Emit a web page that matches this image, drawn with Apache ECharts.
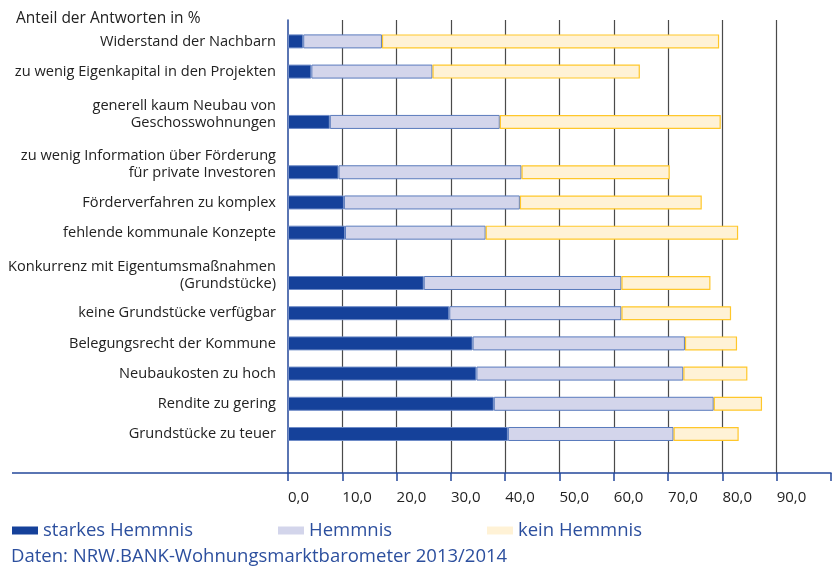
<!DOCTYPE html>
<html>
<head>
<meta charset="utf-8">
<script src="https://cdn.jsdelivr.net/npm/echarts@6/dist/echarts.min.js"></script>
<style>
  html, body { margin: 0; padding: 0; background: #fff; }
  #chart { width: 837px; height: 568px; }
</style>
</head>
<body>
<div id="chart"></div>
<script>
// Kategorien von oben nach unten
const categories = [
  'Widerstand der Nachbarn',
  'zu wenig Eigenkapital in den Projekten',
  'generell kaum Neubau von\nGeschosswohnungen',
  'zu wenig Information über Förderung\nfür private Investoren',
  'Förderverfahren zu komplex',
  'fehlende kommunale Konzepte',
  'Konkurrenz mit Eigentumsmaßnahmen\n(Grundstücke)',
  'keine Grundstücke verfügbar',
  'Belegungsrecht der Kommune',
  'Neubaukosten zu hoch',
  'Rendite zu gering',
  'Grundstücke zu teuer'
];
const seriesNames = ['starkes Hemmnis', 'Hemmnis', 'kein Hemmnis'];
const starkes = [2.8, 4.3, 7.7, 9.3, 10.3, 10.5, 25.0, 29.7, 34.0, 34.7, 37.9, 40.5];
const hemmnis = [14.5, 22.3, 31.3, 33.7, 32.4, 25.9, 36.4, 31.7, 39.1, 38.1, 40.5, 30.5];
const keinHemmnis = [62.1, 38.2, 40.7, 27.3, 33.5, 46.5, 16.4, 20.2, 9.6, 11.8, 8.9, 12.0];

const FONT = '"Open Sans", sans-serif';
const BLUE = '#23479a';

// zweizeilige Beschriftungen bekommen mehr Platz -> feines Raster aus Slots
const SLOTS = 180;
const rowSlot = [];
const labelSlot = [];
let s = 8;
categories.forEach((c, i) => {
  const lines = c.split('\n').length;
  if (i > 0) s += 12 + (lines > 1 ? 8 : 0);
  rowSlot.push(s);
  labelSlot.push(s - (lines - 1) * 3);
});
const slotCats = [];
const slotLabel = [];
for (let i = 0; i < SLOTS; i++) {
  slotCats.push('s' + i);
  slotLabel.push('');
}
labelSlot.forEach((k, i) => { slotLabel[k] = categories[i]; });

function spread(values) {
  const arr = new Array(SLOTS).fill('-');
  rowSlot.forEach((k, i) => { arr[k] = values[i]; });
  return arr;
}

const chart = echarts.init(document.getElementById('chart'));
chart.setOption({
  animation: false,
  title: {
    text: 'Anteil der Antworten in %',
    left: 11, top: 6,
    textStyle: { fontFamily: FONT, fontSize: 15.5, fontWeight: 'normal', color: '#222' }
  },
  legend: [0, 1, 2].map((i) => ({
    data: [seriesNames[i]],
    left: [7, 273, 482][i],
    top: 516,
    icon: 'rect',
    itemWidth: 26,
    itemHeight: 8,
    itemGap: 0,
    itemStyle: { borderWidth: 0 },
    textStyle: { fontFamily: FONT, fontSize: 18.5, color: '#2c4f9e' }
  })),
  grid: { left: 288, right: 6, top: 20, bottom: 95, containLabel: false, outerBoundsMode: 'none' },
  xAxis: {
    type: 'value',
    min: 0, max: 100, interval: 10,
    axisLine: { show: true, lineStyle: { color: BLUE, width: 1.5 } },
    axisTick: { show: true, length: 8, lineStyle: { color: BLUE, width: 1.5 } },
    splitLine: { show: true, showMinLine: false, showMaxLine: false, lineStyle: { color: '#4a4a4a', width: 1.2 } },
    axisLabel: {
      fontFamily: FONT, fontSize: 15, color: '#222', align: 'left', margin: 17,
      formatter: (v) => v >= 100 ? '' : v.toFixed(1).replace('.', ',')
    }
  },
  yAxis: {
    type: 'category',
    inverse: true,
    data: slotCats,
    axisLine: { show: true, lineStyle: { color: BLUE, width: 1.5 } },
    axisTick: { show: false },
    axisLabel: {
      interval: 0, margin: 12, fontFamily: FONT, fontSize: 14.6, color: '#222',
      lineHeight: 17, align: 'right', padding: [10, 0, 0, 0],
      formatter: (v, idx) => slotLabel[idx]
    }
  },
  series: [
    {
      name: seriesNames[0], type: 'bar', stack: 'a', barWidth: 14,
      itemStyle: { color: '#15419a', borderColor: '#6f8cc8', borderWidth: 1 },
      data: spread(starkes)
    },
    {
      name: seriesNames[1], type: 'bar', stack: 'a', barWidth: 14,
      itemStyle: { color: '#d3d5eb', borderColor: '#5a7bbd', borderWidth: 1 },
      data: spread(hemmnis)
    },
    {
      name: seriesNames[2], type: 'bar', stack: 'a', barWidth: 14,
      itemStyle: { color: '#fff2d6', borderColor: '#ffc72a', borderWidth: 1.2 },
      data: spread(keinHemmnis)
    }
  ],
  graphic: [
    {
      type: 'line', silent: true,
      shape: { x1: 12, y1: 473, x2: 288, y2: 473 },
      style: { stroke: BLUE, lineWidth: 1.5 }
    },
    {
      type: 'text', left: 11, top: 547, silent: true,
      style: { text: 'Daten: NRW.BANK-Wohnungsmarktbarometer 2013/2014', fontFamily: FONT, fontSize: 18.5, fill: '#2c4f9e' }
    }
  ]
});
</script>
</body>
</html>
